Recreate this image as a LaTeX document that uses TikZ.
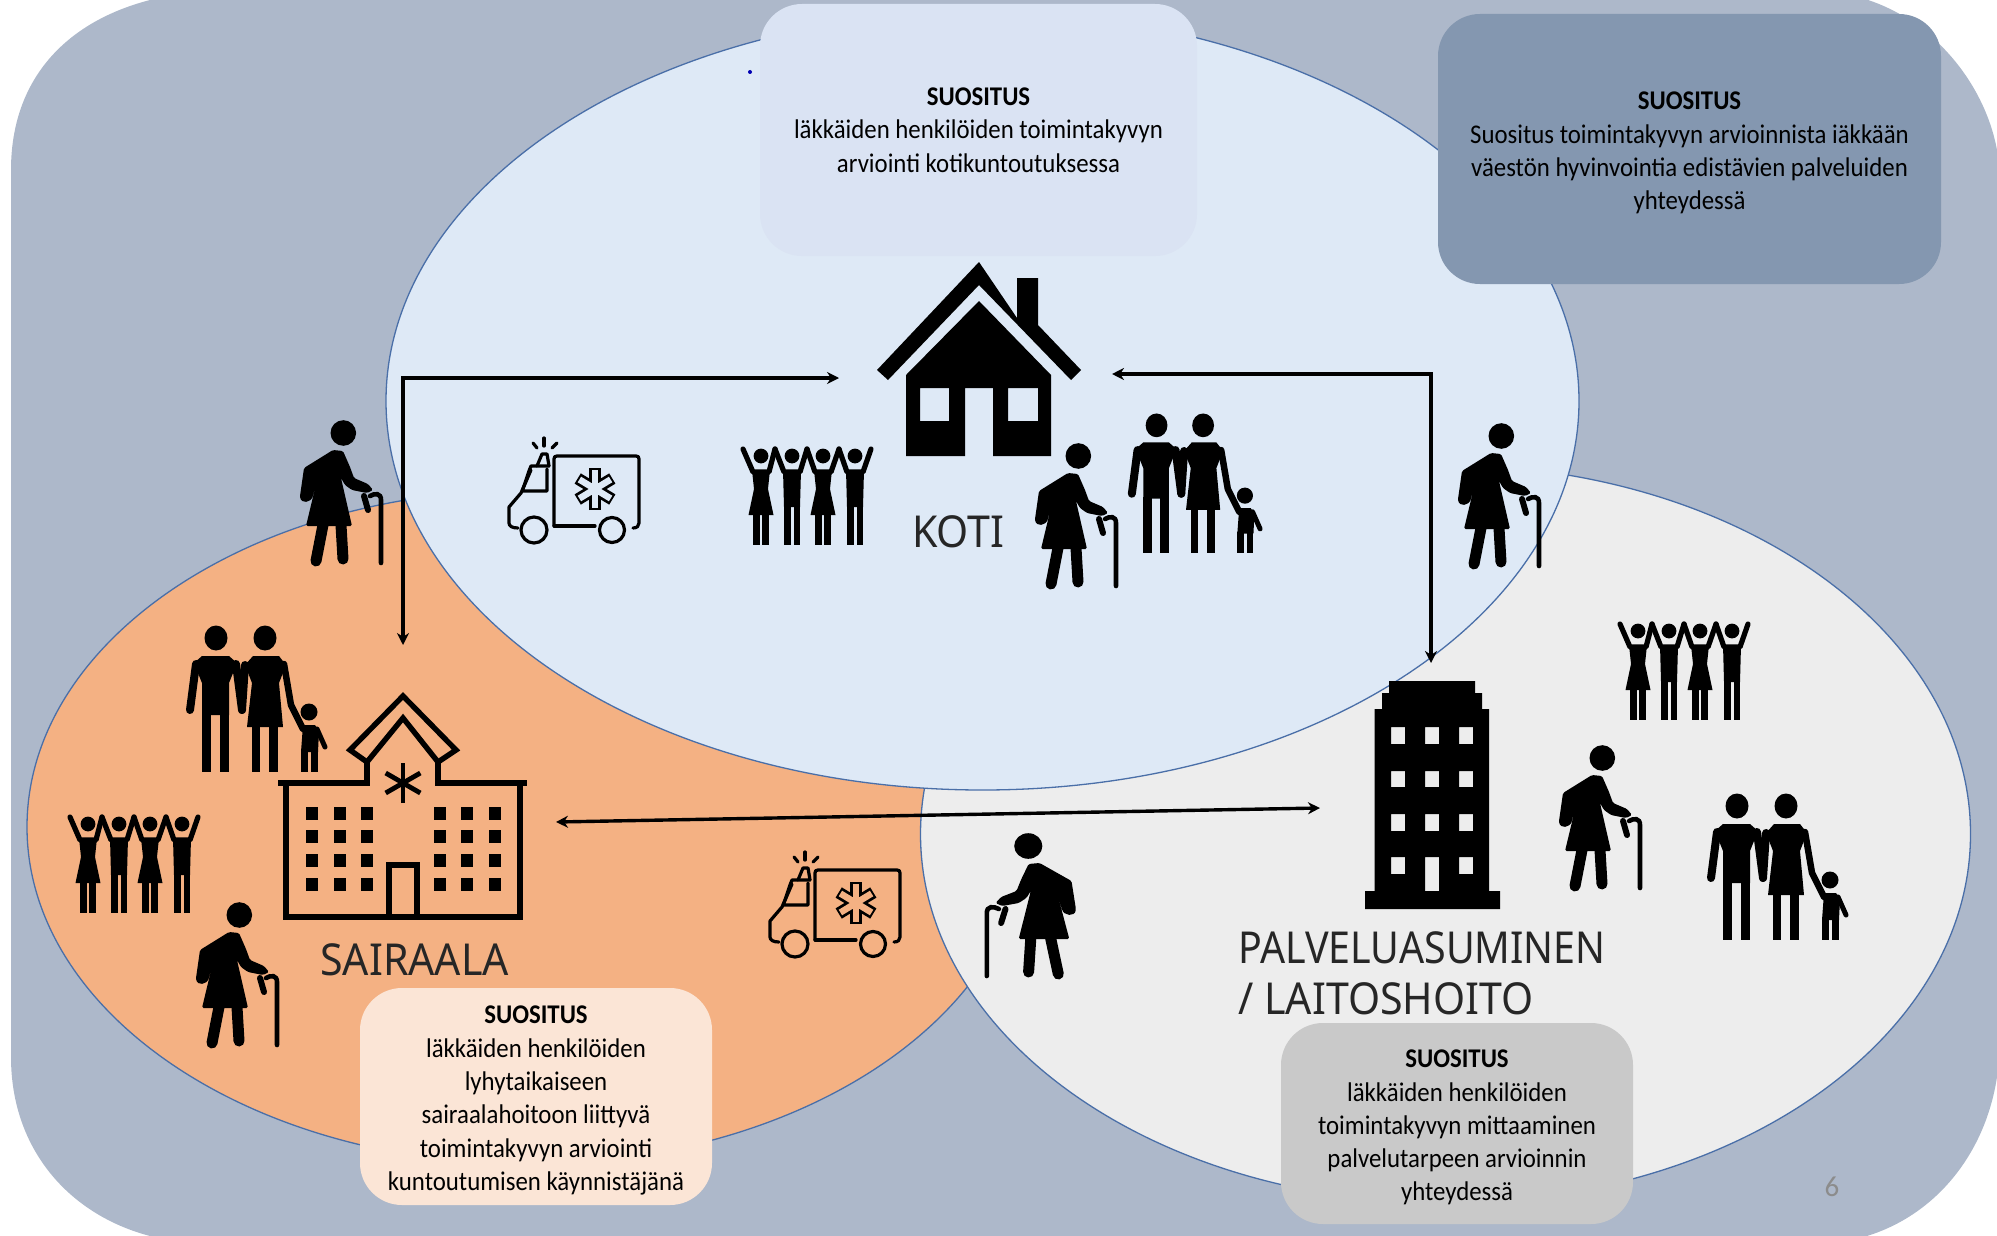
\documentclass[tikz,border=0pt]{standalone}
\usepackage{fontspec}
\setmainfont{Carlito}
\newfontfamily\lblfont[FakeStretch=0.935]{Noto Sans}
\newfontfamily\lblnarrow[FakeStretch=0.895]{Noto Sans}
\newfontfamily\txtfont[FakeStretch=0.92]{Carlito}
\usetikzlibrary{shapes.geometric,arrows.meta}
\newcommand{\recohead}{\rule{0pt}{26pt}\textbf{SUOSITUS}}
\definecolor{bgc}{HTML}{ADB8CA}
\definecolor{kotic}{HTML}{DEE9F6}
\definecolor{orangec}{HTML}{F4B183}
\definecolor{grayc}{HTML}{EDEDED}
\definecolor{edgec}{HTML}{4A6FA8}
\definecolor{boxtop}{HTML}{DAE3F3}
\definecolor{boxtr}{HTML}{8497B0}
\definecolor{boxbl}{HTML}{FBE5D6}
\definecolor{boxbr}{HTML}{C9C9C9}
\tikzset{
  zone/.style={ellipse,draw=edgec,line width=1.3pt,inner sep=0pt},
  reco/.style={rectangle,rounded corners=42pt,inner sep=0pt,align=center,text=black,
    font=\txtfont\fontsize{27}{33.3}\selectfont},
  lbl/.style={anchor=base west,inner sep=0pt,text=black!85,font=\lblfont\fontsize{44}{50}\selectfont},
  arr/.style={line width=3.4pt,{Stealth[length=12pt,width=12pt]}-{Stealth[length=12pt,width=12pt]}},
  pics/elderly/.style={code={
    \fill (44.3,13) circle (12.8);
    \fill[rounded corners=1.5pt] (34,30) -- (44,31) -- (51,47) -- (55,58) -- (69,64) -- (74,70) -- (68,73) -- (53,70) -- (46,65) -- (42,58) -- (53,106) -- (7,106) -- (19,56) -- (14,75) .. controls (12,83) and (2,84) .. (1,76) -- (5,48) -- cycle;
    \draw[line width=6pt,line cap=round] (65,76) -- (69,90);
    \draw[line width=4.6pt,line cap=round] (71,76) .. controls (76,73) and (82,73) .. (82,80) -- (82,143);
    \draw[line width=11pt,line cap=round] (24,105) -- (17,141);
    \draw[line width=11pt,line cap=round] (42,105) -- (44,139);
  }},
  pics/family/.style={code={
    \fill (29,13) ellipse [x radius=11.5,y radius=12.5];
    \fill (78,13) ellipse [x radius=11.5,y radius=12.5];
    \fill (122,87) circle (8.5);
    \fill (15,31) -- (42,31) -- (50,38) -- (42,58) -- (42,90) -- (15,90) -- (15,58) -- (7,38) -- cycle;
    \fill (15,88) rectangle (24,147);
    \fill (33,88) rectangle (42,147);
    \draw[line width=8pt,line cap=round] (9,39) -- (3,85);
    \draw[line width=8pt,line cap=round] (49,39) -- (55,85);
    \fill (66,31) -- (92,31) -- (99,40) -- (92,58) -- (96,102) -- (60,102) -- (65,58) -- (58,40) -- cycle;
    \draw[line width=8pt,line cap=round] (58,40) -- (55,85);
    \fill (65,100) rectangle (73,147);
    \fill (82,100) rectangle (91,147);
    \draw[line width=6.5pt,line cap=round,line join=round] (97,39) -- (104,80) -- (116,104);
    \fill (116,100) -- (128,100) -- (132,106) -- (131,127) -- (114,127) -- cycle;
    \fill (114,125) rectangle (121,147);
    \fill (124,125) rectangle (131,147);
    \draw[line width=5pt,line cap=round] (130,104) -- (138,122);
  }},
  pics/crowd/.style={code={
    \foreach \cx/\hl/\hr in {18/0/32,49/32/64,80/64/96,112/96/128}{
      \fill (\cx,9) circle (7.4);
      \draw[line width=5.2pt,line cap=round,line join=round] (\hl,2) -- ({\cx-8},25) -- ({\cx+8},25) -- (\hr,2);
    }
    \foreach \cx in {18,80}{
      \fill ({\cx-9},23) -- ({\cx+9},23) -- ({\cx+7},42) -- ({\cx+12.5},68) -- ({\cx-12.5},68) -- ({\cx-7},42) -- cycle;
      \fill ({\cx-8},66) rectangle ({\cx-1},98);
      \fill ({\cx+1},66) rectangle ({\cx+8},98);
    }
    \foreach \cx in {49,112}{
      \fill ({\cx-9},23) -- ({\cx+9},23) -- ({\cx+8},60) -- ({\cx-8},60) -- cycle;
      \fill ({\cx-8},58) rectangle ({\cx-1.5},98);
      \fill ({\cx+1.5},58) rectangle ({\cx+8},98);
    }
  }},
  pics/ambulance/.style={code={
    \begin{scope}[line width=3.2pt,line cap=round,line join=round]
      \draw (47,89) -- (47,22) .. controls (47,20) and (48,19) .. (50,19) -- (129,19) .. controls (131,19) and (132,20) .. (132,22) -- (132,86) .. controls (132,89) and (130,91) .. (126,91);
      \draw (42,29) -- (24,29) .. controls (20,38) and (18,48) .. (14,56) -- (2,70) -- (2,86) .. controls (2,89) and (5,91) .. (11,91);
      \draw (24,33) -- (15,54) -- (40,54) -- (40,32);
      \draw (47,89) -- (88,89);
      \draw (27,93) circle (13);
      \draw (105,93) circle (12.5);
      \draw (30,29) -- (35,17) -- (40,17) -- (42,29);
      \draw (26,6) -- (30,11);
      \draw (37,1) -- (37,9);
      \draw (50,6) -- (45,11);
      \foreach \a in {90,30,150}{
        \draw[line width=12pt,line cap=butt] ({88+20*cos(\a)},{52+21*sin(\a)}) -- ({88-20*cos(\a)},{52-21*sin(\a)});
      }
      \foreach \a in {90,30,150}{
        \draw[#1,line width=6.5pt,line cap=butt] ({88+18*cos(\a)},{52+19*sin(\a)}) -- ({88-18*cos(\a)},{52-19*sin(\a)});
      }
    \end{scope}
  }},
  pics/ambulance/.default=kotic,
}
\begin{document}
\begin{tikzpicture}[x=1pt,y=-1pt]
\useasboundingbox (0,0) rectangle (1997,1236);
% backdrop
\fill[bgc] (11,170) .. controls (11,80) and (65,22) .. (150,0) -- (1868,0) .. controls (1935,22) and (1985,85) .. (1997,150)
  -- (1997,1077) .. controls (1985,1155) and (1935,1215) .. (1867,1236) -- (150,1236) .. controls (70,1215) and (11,1150) .. (11,1057) -- cycle;
% zones
\node[zone,fill=orangec,minimum width=1000pt,minimum height=674pt] (sairaalaZone) at (527,827) {};
\node[zone,fill=grayc,minimum width=1050pt,minimum height=738pt] (palveluZone) at (1445.5,834) {};
\node[zone,fill=kotic,minimum width=1193pt,minimum height=778pt] (kotiZone) at (982.5,401) {};
% recommendation boxes
\node[reco,fill=boxtop,minimum width=437pt,minimum height=252pt] (recoTop) at (978.5,130) {\textbf{SUOSITUS}\\läkkäiden henkilöiden toimintakyvyn\\arviointi kotikuntoutuksessa};
\node[reco,fill=boxtr,minimum width=503pt,minimum height=270pt] (recoTR) at (1689.5,149) {\recohead\\Suositus toimintakyvyn arvioinnista iäkkään\\väestön hyvinvointia edistävien palveluiden\\yhteydessä};
\node[reco,fill=boxbl,minimum width=352pt,minimum height=217pt] (recoBL) at (536,1096.5) {\recohead\\läkkäiden henkilöiden\\lyhytaikaiseen\\sairaalahoitoon liittyvä\\toimintakyvyn arviointi\\kuntoutumisen käynnistäjänä};
\node[reco,fill=boxbr,minimum width=352pt,minimum height=201pt] (recoBR) at (1457,1123.5) {\recohead\\läkkäiden henkilöiden\\toimintakyvyn mittaaminen\\palvelutarpeen arvioinnin\\yhteydessä};
% dot and page number
\fill[blue!70!black] (750,72) circle (2);
\node[inner sep=0pt,text=black!45,font=\fontsize{29}{30}\selectfont] (pageNo) at (1832,1187) {6};
% house
\fill (979,262) -- (1017,318) -- (1017,278) -- (1038,278) -- (1038,325) -- (1081,370) -- (1071,380) -- (979,285) -- (888,380) -- (877,370) -- cycle;
\fill[even odd rule] (979,301) -- (1051,375) -- (1051,456) -- (993,456) -- (993,388) -- (965,388) -- (965,456) -- (906,456) -- (906,375) -- cycle
   (920,388) rectangle (949,421) (1008,388) rectangle (1038,421);
% hospital
\begin{scope}[line width=5.4pt,line join=miter]
  \draw (278,783) -- (367,783) -- (367,762);
  \draw (438,762) -- (438,783) -- (527,783);
  \draw (286,783) -- (286,917) -- (520,917) -- (520,783);
  \draw (367,762) -- (350,750) -- (403,696) -- (456,750) -- (438,762);
  \draw (367,762) -- (403,718) -- (438,762);
  \draw (389,917) -- (389,865) -- (417,865) -- (417,917);
  \foreach \a in {90,30,150}{\draw[line width=4.8pt] ({403+20*cos(\a)},{783+20*sin(\a)}) -- ({403-20*cos(\a)},{783-20*sin(\a)});}
\end{scope}
\foreach \wx in {306,334,361,434,461,489}{\foreach \wy in {807,830,854,878}{\fill (\wx,\wy) rectangle ++(12,13);}}
% apartment block
\fill[even odd rule] (1389,681) -- (1475,681) -- (1475,693) -- (1482,693) -- (1482,709) -- (1489,709) -- (1489,891) -- (1500,891) -- (1500,909) -- (1365,909) -- (1365,891) -- (1374.5,891) -- (1374.5,709) -- (1382,709) -- (1382,693) -- (1389,693) -- cycle
  (1391,727) rectangle (1405,744) (1425,727) rectangle (1439,744) (1459,727) rectangle (1473,744)
  (1391,771) rectangle (1405,787) (1425,771) rectangle (1439,787) (1459,771) rectangle (1473,787)
  (1391,814) rectangle (1405,831) (1425,814) rectangle (1439,831) (1459,814) rectangle (1473,831)
  (1391,857) rectangle (1405,874) (1425,857) rectangle (1439,891) (1459,857) rectangle (1473,874);
% people
\pic (e1) at (1034,443) {elderly};
\pic (e2) at (299,420) {elderly};
\pic (e3) at (1457,423) {elderly};
\pic (e4) at (195,902) {elderly};
\pic (e5) at (1558,745) {elderly};
\pic[xscale=-1.1] (e6) at (1077,833) {elderly};
\pic[scale=.95] (f1) at (1129,413) {family};
\pic (f2) at (187,625) {family};
\pic (f3) at (1708,793) {family};
\pic (c1) at (743,447) {crowd};
\pic (c2) at (70,815) {crowd};
\pic (c3) at (1620,622) {crowd};
\pic (a1) at (507,437) {ambulance=kotic};
\pic (a2) at (768,851) {ambulance=orangec};
% labels
\node[lbl] (lblKoti) at (912,547) {KOTI};
\node[lbl] (lblSairaala) at (320,975) {SAIRAALA};
\node[lbl,font=\lblnarrow\fontsize{44}{50}\selectfont] (lblPalvelu) at (1238,963) {PALVELUASUMINEN};
\node[lbl] (lblLaitos) at (1238,1014) {/ LAITOSHOITO};
% connector ends
\coordinate (houseW) at (839,378);
\coordinate (houseE) at (1112,374);
\coordinate (hospN) at (403,645);
\coordinate (hospE) at (556,822);
\coordinate (blockN) at (1431,663);
\coordinate (blockW) at (1320,808);
\draw[arr] (houseW) -| (hospN);
\draw[arr] (houseE) -| (blockN);
\draw[arr] (hospE) -- (blockW);
\end{tikzpicture}
\end{document}
